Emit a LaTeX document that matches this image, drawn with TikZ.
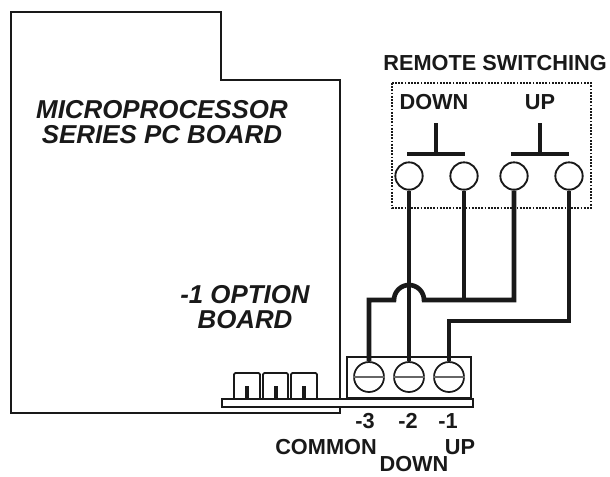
\documentclass[tikz,border=0pt]{standalone}
\usepackage{fontspec}
\setmainfont{Liberation Sans}
\usepackage{tikz}
\usetikzlibrary{positioning}

\begin{document}
\begin{tikzpicture}[
            x=0.75pt, y=-0.75pt,
            outline/.style={line width=1.4pt, black!90},
            wire/.style={line width=3.5pt, black!90},
            contact/.style={circle, draw, line width=1.4pt, black!90, fill=white, minimum size=20.5pt, inner sep=0pt},
            screw/.style={circle, draw, line width=1.3pt, black!90, fill=white, minimum size=22.5pt, inner sep=0pt},
            lbl/.style={font=\bfseries\fontsize{16.3}{18}\selectfont, inner sep=0pt, black!90},
            title/.style={font=\bfseries\itshape\fontsize{19.4}{19}\selectfont, inner sep=0pt, align=center, black!90}
        ]
        \useasboundingbox (0,0) rectangle (610,476);

        % PC board outline
        \draw[outline] (11,413) -- (11,12) -- (221,12) -- (221,80) -- (340,80) -- (340,413) -- cycle;
        \node[title] (boardname) at (162,122) {MICROPROCESSOR\\SERIES PC BOARD};
        \node[title] (optionname) at (245,307) {-1 OPTION\\BOARD};

        % Small connectors on the option board
        \foreach \i/\xa/\xb in {1/234/260, 2/263/288, 3/291/317} {
                \draw[outline, rounded corners=1pt] (\xa,398) -- (\xa,373) -- (\xb,373) -- (\xb,398);
                \fill[black!90] ({(\xa+\xb)/2-2},386) rectangle ({(\xa+\xb)/2+2},398);
            }

        % Remote switch box
        \node[lbl] (remote) at (495,63) {REMOTE SWITCHING};
        \draw[line width=1.4pt, black!90, densely dotted] (392,83) rectangle (591,208);
        \node[lbl] (downlbl) at (434,102) {DOWN};
        \node[lbl] (uplbl) at (540,102) {UP};

        % Switch contacts
        \foreach \i/\x in {1/409, 2/464, 3/514, 4/569} {
                \node[contact] (sw\i) at (\x,176) {};
            }

        % Push buttons
        \coordinate (downl) at (407,154);
        \coordinate (downr) at (465,154);
        \coordinate (downc) at (436,154);
        \coordinate (downt) at (436,123);
        \coordinate (upl) at (511,154);
        \coordinate (upr) at (569,154);
        \coordinate (upc) at (540,154);
        \coordinate (upt) at (540,123);
        \draw[line width=2.3pt, black!90] (downl) -- (downr);
        \draw[line width=2.3pt, black!90] (downc) -- (downt);
        \draw[line width=2.3pt, black!90] (upl) -- (upr);
        \draw[line width=2.3pt, black!90] (upc) -- (upt);

        % Terminal block
        \draw[outline] (347,398) -- (347,357) -- (471,357) -- (471,398);
        \draw[outline, fill=white] (222,399) rectangle (473,407);
        \draw[line width=2pt, black!90] (347,398) -- (471,398);
        \foreach \i/\x/\n in {1/448/-1, 2/408/-2, 3/365/-3} {
                \node[lbl] (num\i) at (\x,421) {\n};
            }
        \foreach \i/\x in {1/449, 2/409, 3/369} {
                \node[screw] (term\i) at (\x,377) {};
                \draw[line width=1.5pt, black!60] (term\i.west) -- (term\i.east);
            }

        % Wires
        \coordinate (bend3) at (369,300);
        \coordinate (hopl) at (394,300);
        \coordinate (hopr) at (424,300);
        \coordinate (jct2) at (464,297);
        \coordinate (bend4) at (514,297);
        \coordinate (bend1) at (449,321);
        \coordinate (bend5) at (569,321);
        \draw[wire] (term3) -- (bend3) -- (hopl) arc[start angle=180, end angle=360, radius=15] -- (hopr) -- (bend4 |- hopr) -- (sw3);
        \draw[wire] (term2) -- (sw1);
        \draw[wire] (sw2) -- (jct2 |- hopr);
        \draw[wire] (term1) -- (bend1) -- (bend5) -- (sw4);

        % Terminal names
        \node[lbl] (common) at (326,447) {COMMON};
        \node[lbl] (upname) at (460,447) {UP};
        \node[lbl] (downname) at (414,464) {DOWN};
    \end{tikzpicture}
\end{document}
